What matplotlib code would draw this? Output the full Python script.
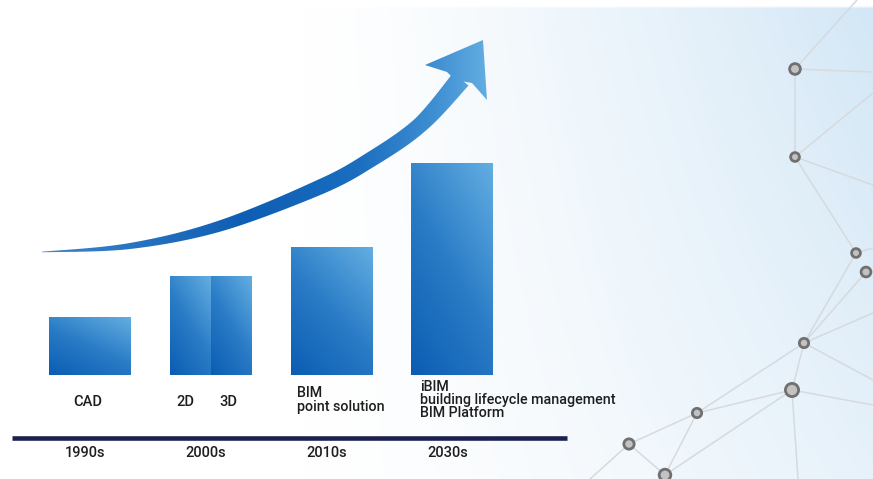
import numpy as np
import matplotlib
matplotlib.use('Agg')
import matplotlib.pyplot as plt
import matplotlib.transforms as mtransforms
from matplotlib.patches import Polygon
from matplotlib.colors import LinearSegmentedColormap, to_rgb

plt.rcParams['font.family'] = ['Roboto', 'DejaVu Sans']
plt.rcParams['font.weight'] = 'medium'

W, H = 873, 479

# ---- data ----
decades = ['1990s', '2000s', '2010s', '2030s']
stage_labels = ['CAD', ['2D', '3D'], 'BIM\npoint solution',
                'iBIM\nbuilding lifecycle management\nBIM Platform']
bar_levels = [1.0, 1.7, 2.2, 3.65]

# network decoration (pixel coords)
nodes = [(795, 69), (795, 157), (856, 253), (866, 272), (804, 343),
         (792, 390), (697, 413), (629, 444), (665, 475)]
node_size = [60, 40, 40, 50, 45, 90, 45, 55, 70]
edges = [((795, 69), (857, 0)), ((795, 69), (873, 72)), ((795, 69), (795, 157)),
         ((795, 157), (873, 93)), ((795, 157), (873, 185)), ((795, 157), (856, 253)),
         ((856, 253), (873, 248)), ((856, 253), (804, 343)), ((866, 272), (804, 343)),
         ((804, 343), (873, 313)), ((804, 343), (873, 380)), ((804, 343), (792, 390)),
         ((804, 343), (697, 413)), ((792, 390), (697, 413)), ((792, 390), (665, 475)),
         ((792, 390), (873, 405)), ((792, 390), (798, 479)), ((697, 413), (629, 444)),
         ((697, 413), (665, 475)), ((629, 444), (665, 475)), ((629, 444), (590, 479))]

fig = plt.figure(figsize=(W / 100, H / 100), dpi=100)

# ---- background ----
bg = fig.add_axes([0, 0, 1, 1])
bg.set_xlim(0, W)
bg.set_ylim(H, 0)
bg.axis('off')

xx, yy = np.meshgrid(np.linspace(0, 1, 300), np.linspace(0, 1, 200))
a = np.clip((xx - 0.35) / 0.65, 0, 1) ** 1.3 * (1 - 0.45 * yy)
blue = np.array(to_rgb('#d3e7f6'))
img = (1 - a[..., None]) * np.ones(3) + a[..., None] * blue
img[:3, :, :] = 1.0
bg.imshow(img, extent=(0, W, H, 0), aspect='auto', zorder=0, interpolation='bilinear')

for (x0, y0), (x1, y1) in edges:
    bg.plot([x0, x1], [y0, y1], color='#d6dade', lw=1.1, zorder=1, solid_capstyle='round')
nx, ny = zip(*nodes)
bg.scatter(nx, ny, s=node_size, facecolor='#c2c2c2', edgecolor='#707070', linewidth=2.0, zorder=2)

# ---- growth arrow ----
def catmull(points, n=40):
    pts = np.asarray(points, float)
    pts = np.vstack([pts[0], pts, pts[-1]])
    out = []
    t = np.linspace(0, 1, n, endpoint=False)[:, None]
    for i in range(1, len(pts) - 2):
        p0, p1, p2, p3 = pts[i - 1], pts[i], pts[i + 1], pts[i + 2]
        out.append(0.5 * (2 * p1 + (-p0 + p2) * t + (2 * p0 - 5 * p1 + 4 * p2 - p3) * t ** 2
                          + (-p0 + 3 * p1 - 3 * p2 + p3) * t ** 3))
    out.append(pts[-2][None])
    return np.vstack(out)

spine = catmull([(42, 252), (130, 246), (220, 226), (320, 187), (370, 160), (420, 125), (461, 79)])
d = np.gradient(spine, axis=0)
d /= np.linalg.norm(d, axis=1)[:, None]
normal = np.column_stack([-d[:, 1], d[:, 0]])
half = np.interp(spine[:, 0], [42, 130, 220, 320, 420, 461],
                 [0.3, 3, 5.5, 7.5, 8, 10])[:, None]
upper = spine + normal * half
lower = spine - normal * half
shaft_xy = np.vstack([upper, lower[::-1]])
head_xy = [(483, 40), (425, 65), (447, 72), (455, 80), (472, 83), (487, 100)]

arrow_cmap = LinearSegmentedColormap.from_list(
    'arrow', [(0, '#3f86cc'), (0.45, '#0e5eb4'), (0.7, '#1a6dbf'), (0.88, '#3f8fd2'), (1, '#64afe2')])
grad = np.tile(np.linspace(0, 1, 256), (2, 1))
for xy in (shaft_xy, head_xy):
    patch = Polygon(xy, closed=True, facecolor='none', edgecolor='none')
    bg.add_patch(patch)
    im = bg.imshow(grad, extent=(40, 490, H, 0), cmap=arrow_cmap, aspect='auto', zorder=3)
    im.set_clip_path(patch)
bg.set_xlim(0, W)
bg.set_ylim(H, 0)

# ---- bars ----
ax = fig.add_axes([0, 104 / H, 1, 375 / H])
ax.patch.set_alpha(0)
ax.axis('off')
step = 120.8
ax.set_xlim(-90 / step, (W - 90) / step)
ax.set_ylim(0, 375 / 58)

bar_cmap = LinearSegmentedColormap.from_list('bar', ['#0b5db3', '#2a7cc6', '#62ade1'])
width = 82 / step
xs = np.arange(len(decades))


def gradient_bar(x, w, h):
    rect = ax.bar(x, h, width=w, color='none', linewidth=0)[0]
    gx, gy = np.meshgrid(np.linspace(0, 1, 64), np.linspace(0, 1, 64))
    g = 0.4 * gx + 0.6 * gy
    im = ax.imshow(g, extent=(x - w / 2, x + w / 2, 0, h), origin='lower',
                   cmap=bar_cmap, vmin=0, vmax=1, aspect='auto', zorder=2)
    im.set_clip_path(rect)


for x, h in zip(xs, bar_levels):
    if x == 1:
        gradient_bar(x - width / 4, width / 2, h)
        gradient_bar(x + width / 4, width / 2, h)
    else:
        gradient_bar(x, width, h)
ax.set_xlim(-90 / step, (W - 90) / step)
ax.set_ylim(0, 375 / 58)

# labels: x in bar data units, y in pixels
tr = mtransforms.blended_transform_factory(ax.transData, bg.transData)
txt = dict(color='#1e1e1e', transform=tr, va='center')
ax.text(xs[0] - 0.02, 402, stage_labels[0], ha='center', fontsize=10.5, **txt)
ax.text(xs[1] - 0.21, 402, stage_labels[1][0], ha='center', fontsize=10.5, **txt)
ax.text(xs[1] + 0.145, 402, stage_labels[1][1], ha='center', fontsize=10.5, **txt)
ax.text(xs[2] - width / 2 + 0.05, 400, stage_labels[2], ha='left', fontsize=10.3,
        linespacing=1.0, **txt)
ax.text(xs[3] - width / 2 + 0.07, 400, stage_labels[3], ha='left', fontsize=10.3,
        linespacing=0.9, **txt)

# timeline
bg.plot([12, 567], [438, 438], color='#1b2050', lw=3.3, solid_capstyle='butt', zorder=4)
for x, lab in zip(xs, decades):
    ax.text(x - 0.04, 453, lab, ha='center', fontsize=10.5, **txt)

fig.savefig('out.png', dpi=100)
